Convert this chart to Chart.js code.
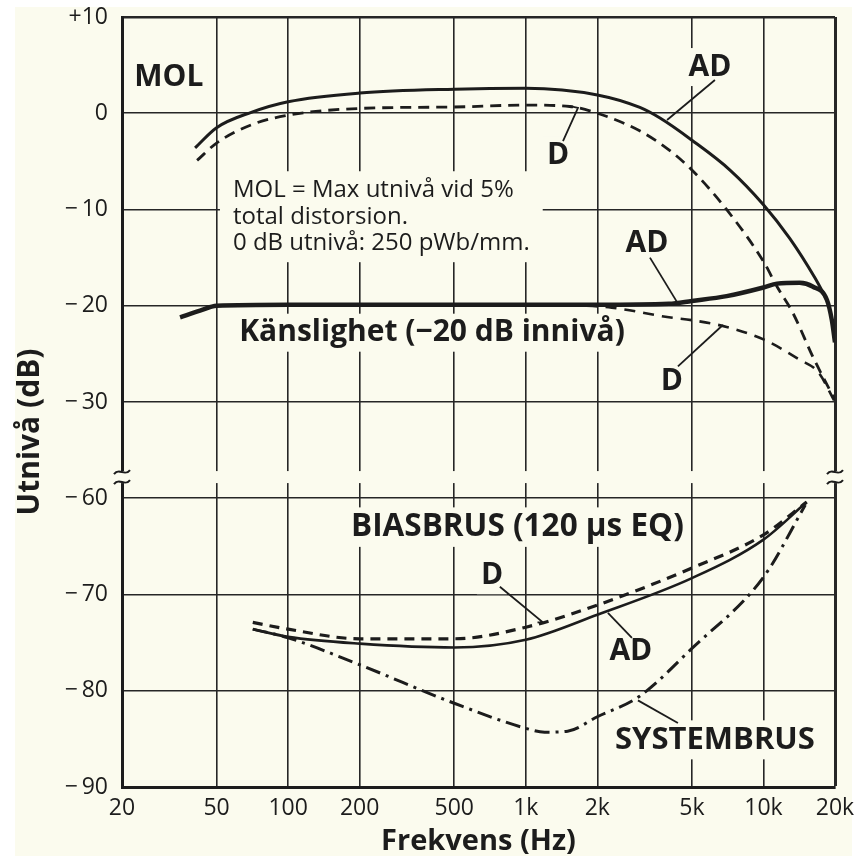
<!DOCTYPE html>
<html>
<head>
<meta charset="utf-8">
<script src="https://cdn.jsdelivr.net/npm/chart.js@4.4.1/dist/chart.umd.min.js"></script>
<style>
  html, body { margin: 0; padding: 0; background: #ffffff; }
  #wrap { width: 864px; height: 856px; }
</style>
</head>
<body>
<div id="wrap"><canvas id="chart" width="864" height="856"></canvas></div>
<script>
const CREAM = "#fbfbee";
const INK = "#1c1c1c";
const FONT = "'Open Sans'";

// y axis is broken between -30 and -60 dB: the lower block is moved up by 20 dB
const BREAK_SHIFT = 20;

const xTicks = [20, 50, 100, 200, 500, 1000, 2000, 5000, 10000, 20000];
const xTickLabels = ["20", "50", "100", "200", "500", "1k", "2k", "5k", "10k", "20k"];
const yTickValues = [10, 0, -10, -20, -30, -60, -70, -80, -90];
const yTickLabels = ["+10", "0", "\u2212\u200910", "\u2212\u200920", "\u2212\u200930",
  "\u2212\u200960", "\u2212\u200970", "\u2212\u200980", "\u2212\u200990"];

// MOL
const molFreqAD = [40.6, 50, 70, 100, 200, 500, 1000, 2000, 3020, 3670, 5000, 7230, 10000, 12900, 16460, 18680];
const molAD = [-3.6, -1.5, 0.1, 1.2, 2.1, 2.5, 2.6, 1.9, 0.6, -0.5, -2.8, -5.9, -9.5, -13.0, -17.1, -19.6];
const molFreqD = [41.4, 50, 70, 100, 200, 500, 1000, 1530, 2000, 3000, 4000, 5000, 7020, 10000, 11400, 13300, 16140, 20000];
const molD = [-4.9, -3.1, -1.2, -0.2, 0.5, 0.65, 0.85, 0.7, 0.0, -1.8, -3.8, -5.9, -10.05, -15.4, -18.0, -20.75, -25.3, -29.8];

// Känslighet
const sensFreqAD = [35.1, 42.6, 50, 100, 200, 500, 1000, 2000, 4000, 5000, 7000, 10000, 11400, 14200, 16100, 18500, 19400, 20000];
const sensAD = [-21.2, -20.5, -20.0, -19.9, -19.9, -19.9, -19.9, -19.9, -19.8, -19.5, -19.0, -18.1, -17.7, -17.6, -18.0, -19.4, -21.5, -23.8];
const sensFreqD = [1500, 2300, 4000, 5000, 7000, 10000, 14200, 17000, 20000];
const sensD = [-19.9, -20.2, -21.2, -21.5, -22.2, -23.5, -25.6, -26.9, -30.0];

// Biasbrus / systembrus
const biasFreq = [71, 100, 200, 500, 1000, 2000, 5000, 10000, 15200];
const biasAD = [-73.6, -74.4, -75.1, -75.5, -74.7, -72.1, -68.3, -64.3, -60.4];
const biasD = [-72.9, -73.6, -74.6, -74.6, -73.4, -71.1, -67.25, -63.8, -60.4];
const sysFreq = [71, 100, 200, 500, 1000, 1200, 1500, 2000, 3000, 5000, 10000, 15000];
const sysNoise = [-73.6, -74.5, -77.3, -81.3, -83.9, -84.3, -84.2, -82.7, -80.6, -75.6, -68.2, -60.7];

function toAxis(db) {
    return db <= -50 ? db + BREAK_SHIFT : db;
}

function points(freqs, vals) {
    return freqs.map((f, i) => ({ x: f, y: toAxis(vals[i]) }));
}

function curve(freqs, vals, width, dash) {
    return {
        data: points(freqs, vals),
        borderColor: INK,
        borderWidth: width,
        borderDash: dash || [],
        pointRadius: 0,
        fill: false,
        cubicInterpolationMode: "monotone"
    };
}

// text labels (position in Hz / dB)
const notes = [
    { text: "MOL", f: 31.5, db: 3.7, bold: true, size: 30 },
    { text: "AD", f: 5960, db: 4.8, bold: true, size: 30 },
    { text: "D", f: 1366, db: -4.4, bold: true, size: 30 },
    { text: "AD", f: 3234, db: -13.5, bold: true, size: 30 },
    { text: "Känslighet (\u221220 dB innivå)", f: 403, db: -22.8, bold: true, size: 30 },
    { text: "D", f: 4120, db: -27.9, bold: true, size: 30 },
    { text: "BIASBRUS (120 \u00b5s EQ)", f: 922, db: -63.0, bold: true, size: 31.5 },
    { text: "D", f: 721, db: -68.0, bold: true, size: 30 },
    { text: "AD", f: 2768, db: -75.9, bold: true, size: 30 },
    { text: "SYSTEMBRUS", f: 6250, db: -85.1, bold: true, size: 31 }
];

// the MOL definition block, left aligned
const molNote = ["MOL = Max utnivå vid 5%", "total distorsion.", "0 dB utnivå: 250 pWb/mm."];
const molNoteDb = [-8.0, -10.8, -13.5];
const molNoteFreq = 58.6;

const leaders = [
    [[6250, 3.45], [3930, -0.7]],
    [[1434, -2.9], [1658, 0.55], [1534, 0.75]],
    [[3330, -15.0], [4324, -19.6]],
    [[4366, -26.3], [6750, -22.0]],
    [[778, -69.2], [1180, -72.9], [1120, -72.9]],
    [[2796, -74.5], [2216, -71.9]],
    [[4366, -83.35], [2964, -81.0]]
];

const paperPlugin = {
    id: "paper",
    beforeDraw(chart) {
        const { ctx, width, height } = chart;
        ctx.save();
        ctx.fillStyle = "#ffffff";
        ctx.fillRect(0, 0, width, height);
        ctx.fillStyle = CREAM;
        ctx.fillRect(15, 7, 837, height - 7);
        ctx.restore();
    }
};

const breakPlugin = {
    id: "axisBreak",
    beforeDatasetsDraw(chart) {
        const { ctx, chartArea: a, scales: { y } } = chart;
        const yc = y.getPixelForValue(-37.8);
        ctx.save();
        ctx.fillStyle = CREAM;
        ctx.fillRect(a.left - 10, yc - 6, a.right - a.left + 20, 12);
        ctx.strokeStyle = INK;
        ctx.lineWidth = 2;
        [a.left, a.right].forEach(x => {
            [-5, 5].forEach(dy => {
                ctx.beginPath();
                ctx.moveTo(x - 8, yc + dy + 2);
                ctx.bezierCurveTo(x - 3, yc + dy - 5, x + 3, yc + dy + 5, x + 8, yc + dy - 2);
                ctx.stroke();
            });
        });
        ctx.restore();
    }
};

const notesPlugin = {
    id: "notes",
    beforeDatasetsDraw(chart) {
        const { ctx, scales: { x, y } } = chart;
        ctx.save();
        ctx.textBaseline = "middle";
        ctx.textAlign = "left";

        // MOL definition text on its own blank patch
        ctx.font = "24px " + FONT;
        const nx = x.getPixelForValue(molNoteFreq);
        const ny = molNoteDb.map(db => y.getPixelForValue(db));
        const nw = Math.max(...molNote.map(t => ctx.measureText(t).width));
        ctx.fillStyle = CREAM;
        ctx.fillRect(nx - 13, ny[0] - 19, nw + 26, ny[ny.length - 1] - ny[0] + 38);
        ctx.fillStyle = INK;
        molNote.forEach((t, i) => ctx.fillText(t, nx, ny[i]));

        notes.forEach(n => {
            ctx.font = (n.bold ? "bold " : "") + n.size + "px " + FONT;
            const w = ctx.measureText(n.text).width;
            const px = x.getPixelForValue(n.f);
            const py = y.getPixelForValue(toAxis(n.db));
            const left = px - w / 2;
            ctx.fillStyle = CREAM;
            ctx.fillRect(left - 4, py - n.size * 0.5 - 4, w + 8, n.size + 8);
            ctx.fillStyle = INK;
            ctx.fillText(n.text, left, py);
        });
        ctx.strokeStyle = INK;
        ctx.lineWidth = 1.8;
        leaders.forEach(path => {
            ctx.beginPath();
            path.forEach(([f, db], i) => {
                const px = x.getPixelForValue(f);
                const py = y.getPixelForValue(toAxis(db));
                if (i === 0) ctx.moveTo(px, py); else ctx.lineTo(px, py);
            });
            ctx.stroke();
        });
        ctx.restore();
    },
    afterDraw(chart) {
        const { ctx, chartArea: a } = chart;
        ctx.save();
        ctx.translate(30, (a.top + a.bottom) / 2 + 30);
        ctx.rotate(-Math.PI / 2);
        ctx.font = "bold 30px " + FONT;
        ctx.fillStyle = INK;
        ctx.textAlign = "center";
        ctx.textBaseline = "middle";
        ctx.fillText("Utnivå (dB)", 0, 0);
        ctx.restore();
    }
};

Chart.defaults.font.family = FONT;
Chart.defaults.color = INK;

const chart = new Chart(document.getElementById("chart").getContext("2d"), {
    type: "line",
    data: {
        datasets: [
            curve(molFreqAD, molAD, 3),
            curve(molFreqD, molD, 2.8, [11, 7]),
            curve(sensFreqAD, sensAD, 4.5),
            curve(sensFreqD, sensD, 2.6, [11, 8]),
            curve(biasFreq, biasAD, 2.6),
            curve(biasFreq, biasD, 3.2, [10, 7]),
            curve(sysFreq, sysNoise, 3, [15, 6, 3, 6])
        ]
    },
    options: {
        responsive: false,
        animation: false,
        layout: { padding: { top: 17, right: 29, bottom: 0, left: 0 } },
        plugins: {
            legend: { display: false },
            tooltip: { enabled: false }
        },
        scales: {
            x: {
                type: "logarithmic",
                min: 20,
                max: 20000,
                afterBuildTicks: scale => { scale.ticks = xTicks.map(v => ({ value: v })); },
                afterFit: scale => { scale.height = 69; },
                ticks: {
                    autoSkip: false,
                    maxRotation: 0,
                    padding: 0,
                    font: { size: 23 },
                    color: INK,
                    callback: value => xTickLabels[xTicks.indexOf(value)]
                },
                grid: {
                    color: "#262626",
                    drawTicks: true,
                    tickLength: 8,
                    tickColor: "rgba(0,0,0,0)",
                    lineWidth: ctx => (ctx.tick && ctx.tick.value === 20000 ? 3 : 1.6)
                },
                border: { color: INK, width: 3 },
                title: {
                    display: true,
                    text: "Frekvens (Hz)",
                    font: { size: 29, weight: "bold", lineHeight: 1 },
                    color: INK,
                    padding: 0
                }
            },
            y: {
                type: "linear",
                min: -70,
                max: 10,
                afterBuildTicks: scale => { scale.ticks = yTickValues.map(v => ({ value: toAxis(v) })); },
                afterFit: scale => { scale.width = 122; },
                ticks: {
                    padding: 0,
                    font: { size: 23 },
                    color: INK,
                    callback: value => yTickLabels[yTickValues.map(toAxis).indexOf(value)]
                },
                grid: {
                    color: "#262626",
                    drawTicks: true,
                    tickLength: 14,
                    tickColor: "rgba(0,0,0,0)",
                    lineWidth: ctx => (ctx.tick && ctx.tick.value === 10 ? 2.5 : 1.6)
                },
                border: { color: INK, width: 3 }
            }
        }
    },
    plugins: [paperPlugin, breakPlugin, notesPlugin]
});
</script>
</body>
</html>
